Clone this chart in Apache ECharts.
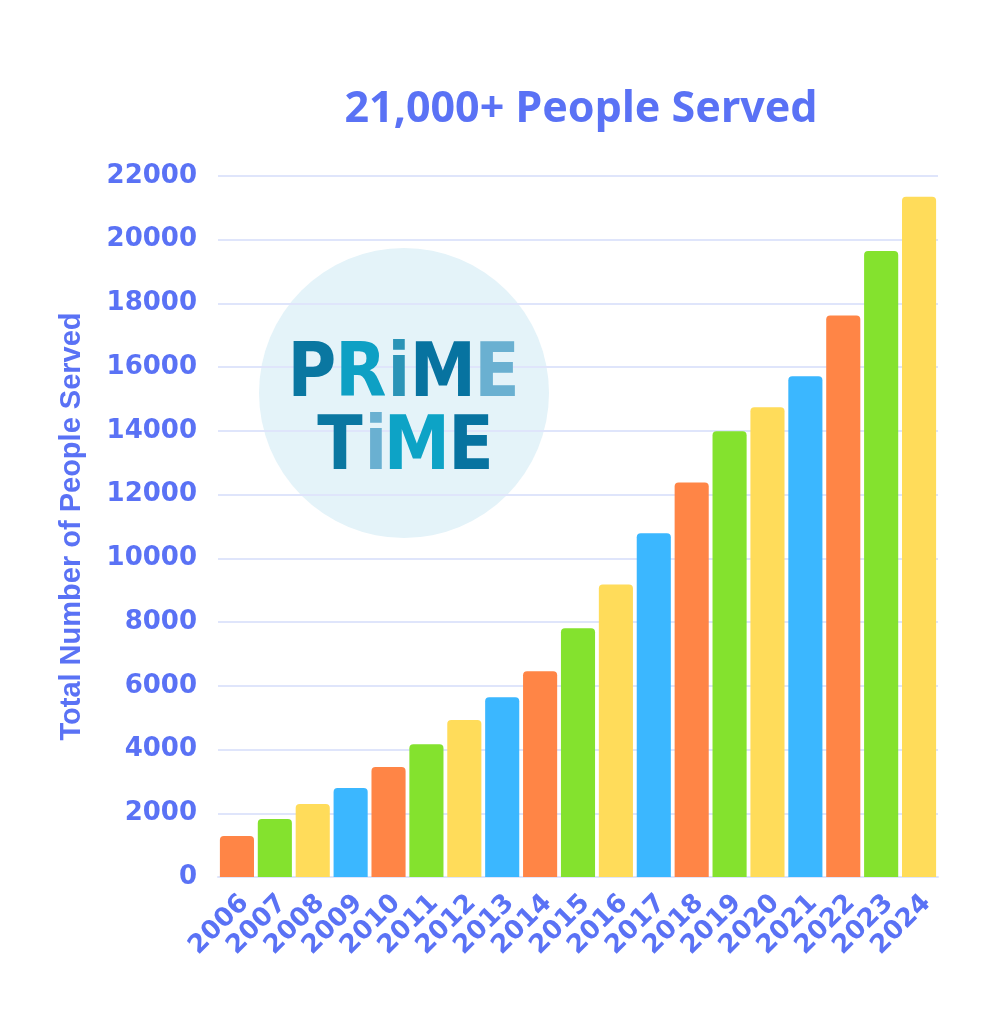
<!DOCTYPE html>
<html>
<head>
<meta charset="utf-8">
<script src="https://cdn.jsdelivr.net/npm/echarts@6/dist/echarts.min.js"></script>
<style>
  html, body { margin: 0; padding: 0; background: #ffffff; }
  #chart { width: 990px; height: 1024px; }
</style>
</head>
<body>
<div id="chart"></div>
<script>
  // data
  var years = ["2006", "2007", "2008", "2009", "2010", "2011", "2012", "2013", "2014", "2015",
    "2016", "2017", "2018", "2019", "2020", "2021", "2022", "2023", "2024"];
  var peopleServed = [1285, 1820, 2290, 2790, 3450, 4170, 4925, 5645, 6460, 7810,
    9180, 10790, 12380, 13990, 14740, 15715, 17620, 19645, 21350];
  var yTicks = { min: 0, max: 22000, interval: 2000 };
  var barColors = ["#FF8546", "#84E22E", "#FFDC5A", "#3BB7FF"];

  var textBlue = "#5A72F5";

  // logo letters (decoration only)
  var logoLetters = [
    { t: "P", x: 312, y: 377, c: "#0A77A1" },
    { t: "R", x: 361, y: 377, c: "#0EA0C4" },
    { t: "i", x: 399, y: 377, c: "#2B94B7" },
    { t: "M", x: 443, y: 377, c: "#0773A0" },
    { t: "E", x: 497, y: 377, c: "#6AB0D1" },
    { t: "T", x: 340, y: 450, c: "#0A77A1" },
    { t: "i", x: 376, y: 450, c: "#6AB0D1" },
    { t: "M", x: 417, y: 450, c: "#0DA3C6" },
    { t: "E", x: 471, y: 450, c: "#0773A0" }
  ];

  var logoGraphics = [{
    type: "circle",
    shape: { cx: 404, cy: 393, r: 145 },
    style: { fill: "#E4F3F9" },
    z: 0
  }];
  logoLetters.forEach(function (l) {
    logoGraphics.push({
      type: "text",
      x: l.x,
      y: l.y,
      z: 1,
      style: {
        text: l.t,
        fill: l.c,
        font: "bold 74px 'DejaVu Sans Condensed', 'DejaVu Sans'",
        align: "center",
        verticalAlign: "middle"
      }
    });
  });

  var chart = echarts.init(document.getElementById("chart"), null, { renderer: "canvas" });
  var option = {
    backgroundColor: "#ffffff",
    animation: false,
    title: {
      text: "21,000+ People Served",
      left: 576,
      top: 83,
      textAlign: "center",
      textStyle: {
        fontFamily: "Noto Sans",
        fontWeight: "bold",
        fontSize: 43,
        color: textBlue
      }
    },
    grid: {
      left: 218,
      right: 52,
      top: 176,
      bottom: 147
    },
    xAxis: {
      type: "category",
      data: years,
      axisLine: { show: true, lineStyle: { color: "#DFE5FB", width: 2 } },
      axisTick: { show: false },
      axisLabel: {
        rotate: 45,
        margin: 30,
        interval: 0,
        padding: [0, -11, 0, 0],
        color: textBlue,
        fontFamily: "DejaVu Sans",
        fontWeight: "bold",
        fontSize: 26
      }
    },
    yAxis: {
      type: "value",
      min: yTicks.min,
      max: yTicks.max,
      interval: yTicks.interval,
      name: "Total Number of People Served",
      nameLocation: "middle",
      nameGap: 132,
      nameTextStyle: {
        color: textBlue,
        fontFamily: "Liberation Sans",
        fontWeight: "bold",
        fontSize: 29
      },
      axisLine: { show: false },
      axisTick: { show: false },
      axisLabel: {
        margin: 21,
        color: textBlue,
        fontFamily: "DejaVu Sans",
        fontWeight: "bold",
        fontSize: 26,
        formatter: function (v) { return String(v); }
      },
      splitLine: { lineStyle: { color: "#DFE5FB", width: 2 } }
    },
    graphic: logoGraphics,
    series: [
      {
        type: "bar",
        data: peopleServed,
        barCategoryGap: "10%",
        z: 3,
        itemStyle: {
          borderRadius: [4, 4, 0, 0],
          color: function (p) { return barColors[p.dataIndex % barColors.length]; }
        }
      }
    ]
  };
  chart.setOption(option);
</script>
</body>
</html>
